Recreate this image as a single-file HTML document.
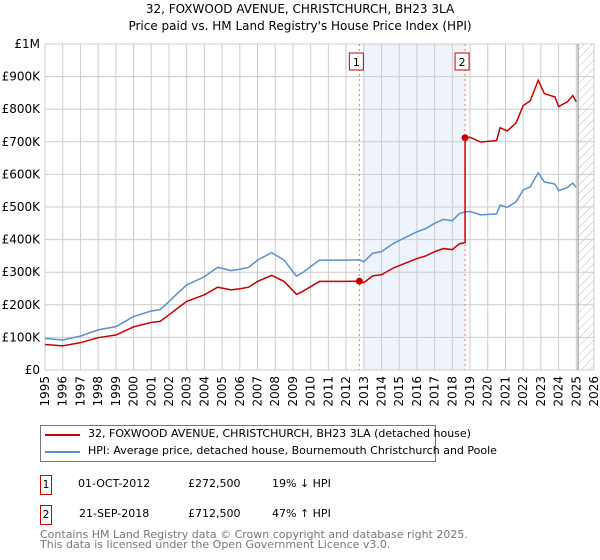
<!DOCTYPE html>
<html><head><meta charset="utf-8"><style>
body{margin:0;background:#fff;font-family:"DejaVu Sans","Liberation Sans",sans-serif;}
#wrap{position:relative;width:600px;height:560px;overflow:hidden;}
.t{position:absolute;font-size:12px;color:#000;white-space:nowrap;}
</style></head><body><div id="wrap">
<svg id="chart" width="600" height="420" style="position:absolute;left:0;top:0">
<text x="300" y="13" text-anchor="middle" font-size="12" font-family="DejaVu Sans, sans-serif">32, FOXWOOD AVENUE, CHRISTCHURCH, BH23 3LA</text>
<text x="300" y="30" text-anchor="middle" font-size="12" font-family="DejaVu Sans, sans-serif">Price paid vs. HM Land Registry's House Price Index (HPI)</text>
<defs><pattern id="hatch" width="6" height="6" patternUnits="userSpaceOnUse" patternTransform="rotate(45)"><line x1="0" y1="0" x2="0" y2="6" stroke="#bbb" stroke-width="1"/></pattern></defs>
<g id="g"></g>
</svg>
<div style="position:absolute;left:40px;top:425px;width:394px;height:35px;border:1px solid #777;">
<div style="position:absolute;left:4px;top:8px;width:35px;height:2px;background:#cc0000"></div>
<div class="t" style="left:47px;top:1px;font-size:11px">32, FOXWOOD AVENUE, CHRISTCHURCH, BH23 3LA (detached house)</div>
<div style="position:absolute;left:4px;top:25px;width:35px;height:2px;background:#5b8fd0"></div>
<div class="t" style="left:47px;top:18px;font-size:11px">HPI: Average price, detached house, Bournemouth Christchurch and Poole</div>
</div>
<div style="position:absolute;left:40px;top:475px;width:10px;height:18px;border:1px solid #cc0000;font-size:11px;text-align:center;line-height:18px">1</div>
<div class="t" style="left:78px;top:477px;font-size:11px">01-OCT-2012</div>
<div class="t" style="left:188px;top:477px;font-size:11px">£272,500</div>
<div class="t" style="left:272px;top:477px;font-size:11px">19% ↓ HPI</div>
<div style="position:absolute;left:40px;top:505px;width:10px;height:18px;border:1px solid #cc0000;font-size:11px;text-align:center;line-height:18px">2</div>
<div class="t" style="left:79px;top:507px;font-size:11px">21-SEP-2018</div>
<div class="t" style="left:188px;top:507px;font-size:11px">£712,500</div>
<div class="t" style="left:272px;top:507px;font-size:11px">47% ↑ HPI</div>
<div class="t" style="left:40px;top:530px;font-size:11px;color:#777;line-height:10px">Contains HM Land Registry data © Crown copyright and database right 2025.<br>This data is licensed under the Open Government Licence v3.0.</div>
</div>
<script>
const hpiYears=[1995,1996,1997,1998,1999,2000,2001,2001.5,2002,2002.5,2003,2004,2004.75,2005.5,2006,2006.5,2007,2007.8,2008.5,2009.2,2009.5,2010.5,2011,2012,2012.75,2013,2013.5,2014,2014.7,2015,2016,2016.5,2017,2017.5,2018,2018.4,2018.72,2019,2019.6,2020.5,2020.7,2021.1,2021.6,2022,2022.4,2022.85,2023.2,2023.8,2024,2024.5,2024.8,2025];
const hpiValues=[97,92,104,123,133,164,181,185,210,236,261,286,315,305,309,315,337,360,337,288,297,337,337,337,338,332,358,363,389,397,424,434,450,462,458,480,485,486,476,479,506,499,516,552,562,605,577,570,550,560,573,560];
const saleYears=[2012.75,2018.72];
const salePrices=[272.5,712.5];
const yTicks=[0,100,200,300,400,500,600,700,800,900,1000];
const yTickLabels=["£0","£100K","£200K","£300K","£400K","£500K","£600K","£700K","£800K","£900K","£1M"];
const xTicks=[1995,1996,1997,1998,1999,2000,2001,2002,2003,2004,2005,2006,2007,2008,2009,2010,2011,2012,2013,2014,2015,2016,2017,2018,2019,2020,2021,2022,2023,2024,2025,2026];
const X0=45,X1=594,Y0=370,Y1=44;
const xs=y=>X0+(y-1995)*(X1-X0)/31;
const ys=v=>Y0-v*(Y0-Y1)/1000;
const g=document.getElementById('g');const NS='http://www.w3.org/2000/svg';
function mk(t,a){const e=document.createElementNS(NS,t);for(const k in a)e.setAttribute(k,a[k]);g.appendChild(e);return e;}
let e;
e=mk('rect',{x:xs(2013),y:Y1,width:xs(2018.72)-xs(2013),height:Y0-Y1,fill:'#eef3fc'});


e=mk('rect',{x:xs(2025.1),y:Y1,width:X1-xs(2025.1),height:Y0-Y1,fill:'url(#hatch)'});


yTicks.forEach((v,i)=>{
 e=mk('line',{x1:X0,x2:X1,y1:ys(v),y2:ys(v),stroke:'#ccc'});
 
 
 e=mk('text',{x:40,y:ys(v)+4,'text-anchor':'end','font-size':12,'font-family':'DejaVu Sans, sans-serif'});e.textContent=yTickLabels[i];
 
 
});
xTicks.forEach(y=>{
 e=mk('line',{x1:xs(y),x2:xs(y),y1:Y1,y2:Y0,stroke:'#ccc'});
 
 
 e=mk('text',{x:0,y:0,'text-anchor':'end','font-size':12,'font-family':'DejaVu Sans, sans-serif',transform:`translate(${xs(y)+4},376) rotate(-90)`});e.textContent=y;
 
 
});
e=mk('line',{x1:xs(2025.1),x2:xs(2025.1),y1:Y1,y2:Y0,stroke:'#888'});


saleYears.forEach((y,i)=>{
 e=mk('line',{x1:xs(y),x2:xs(y),y1:Y1,y2:Y0,stroke:'#f07070','stroke-dasharray':'2,3'});
 
 
 e=mk('rect',{x:xs(y)-10,y:53,width:14,height:17,fill:'#fff',stroke:'#cc0000'});
 
 
 e=mk('text',{x:xs(y)-3,y:66,'text-anchor':'middle','font-size':11,'font-family':'DejaVu Sans, sans-serif'});e.textContent=String(i+1);
 
 
});
function hpiAt(t){for(let i=1;i<hpiYears.length;i++){if(t<=hpiYears[i]){const f=(t-hpiYears[i-1])/(hpiYears[i]-hpiYears[i-1]);return hpiValues[i-1]+f*(hpiValues[i]-hpiValues[i-1]);}}return hpiValues[hpiValues.length-1];}
e=mk('polyline',{points:hpiYears.map((y,i)=>xs(y)+','+ys(hpiValues[i])).join(' '),fill:'none',stroke:'#5b8fd0','stroke-width':1.5});


// property line: HPI indexed to each sale
const r1=salePrices[0]/hpiAt(saleYears[0]),r2=salePrices[1]/hpiAt(saleYears[1]);
const pts=[];
hpiYears.forEach((y,i)=>{if(y<saleYears[1])pts.push(xs(y)+','+ys(hpiValues[i]*r1));});
pts.push(xs(saleYears[1])+','+ys(hpiAt(saleYears[1])*r1));
pts.push(xs(saleYears[1])+','+ys(salePrices[1]));
hpiYears.forEach((y,i)=>{if(y>saleYears[1])pts.push(xs(y)+','+ys(hpiValues[i]*r2));});
e=mk('polyline',{points:pts.join(' '),fill:'none',stroke:'#cc0000','stroke-width':1.5});


saleYears.forEach((y,i)=>{
 e=mk('circle',{cx:xs(y),cy:ys(salePrices[i]),r:3.5,fill:'#cc0000'});
 
 
});
</script>
</body></html>
